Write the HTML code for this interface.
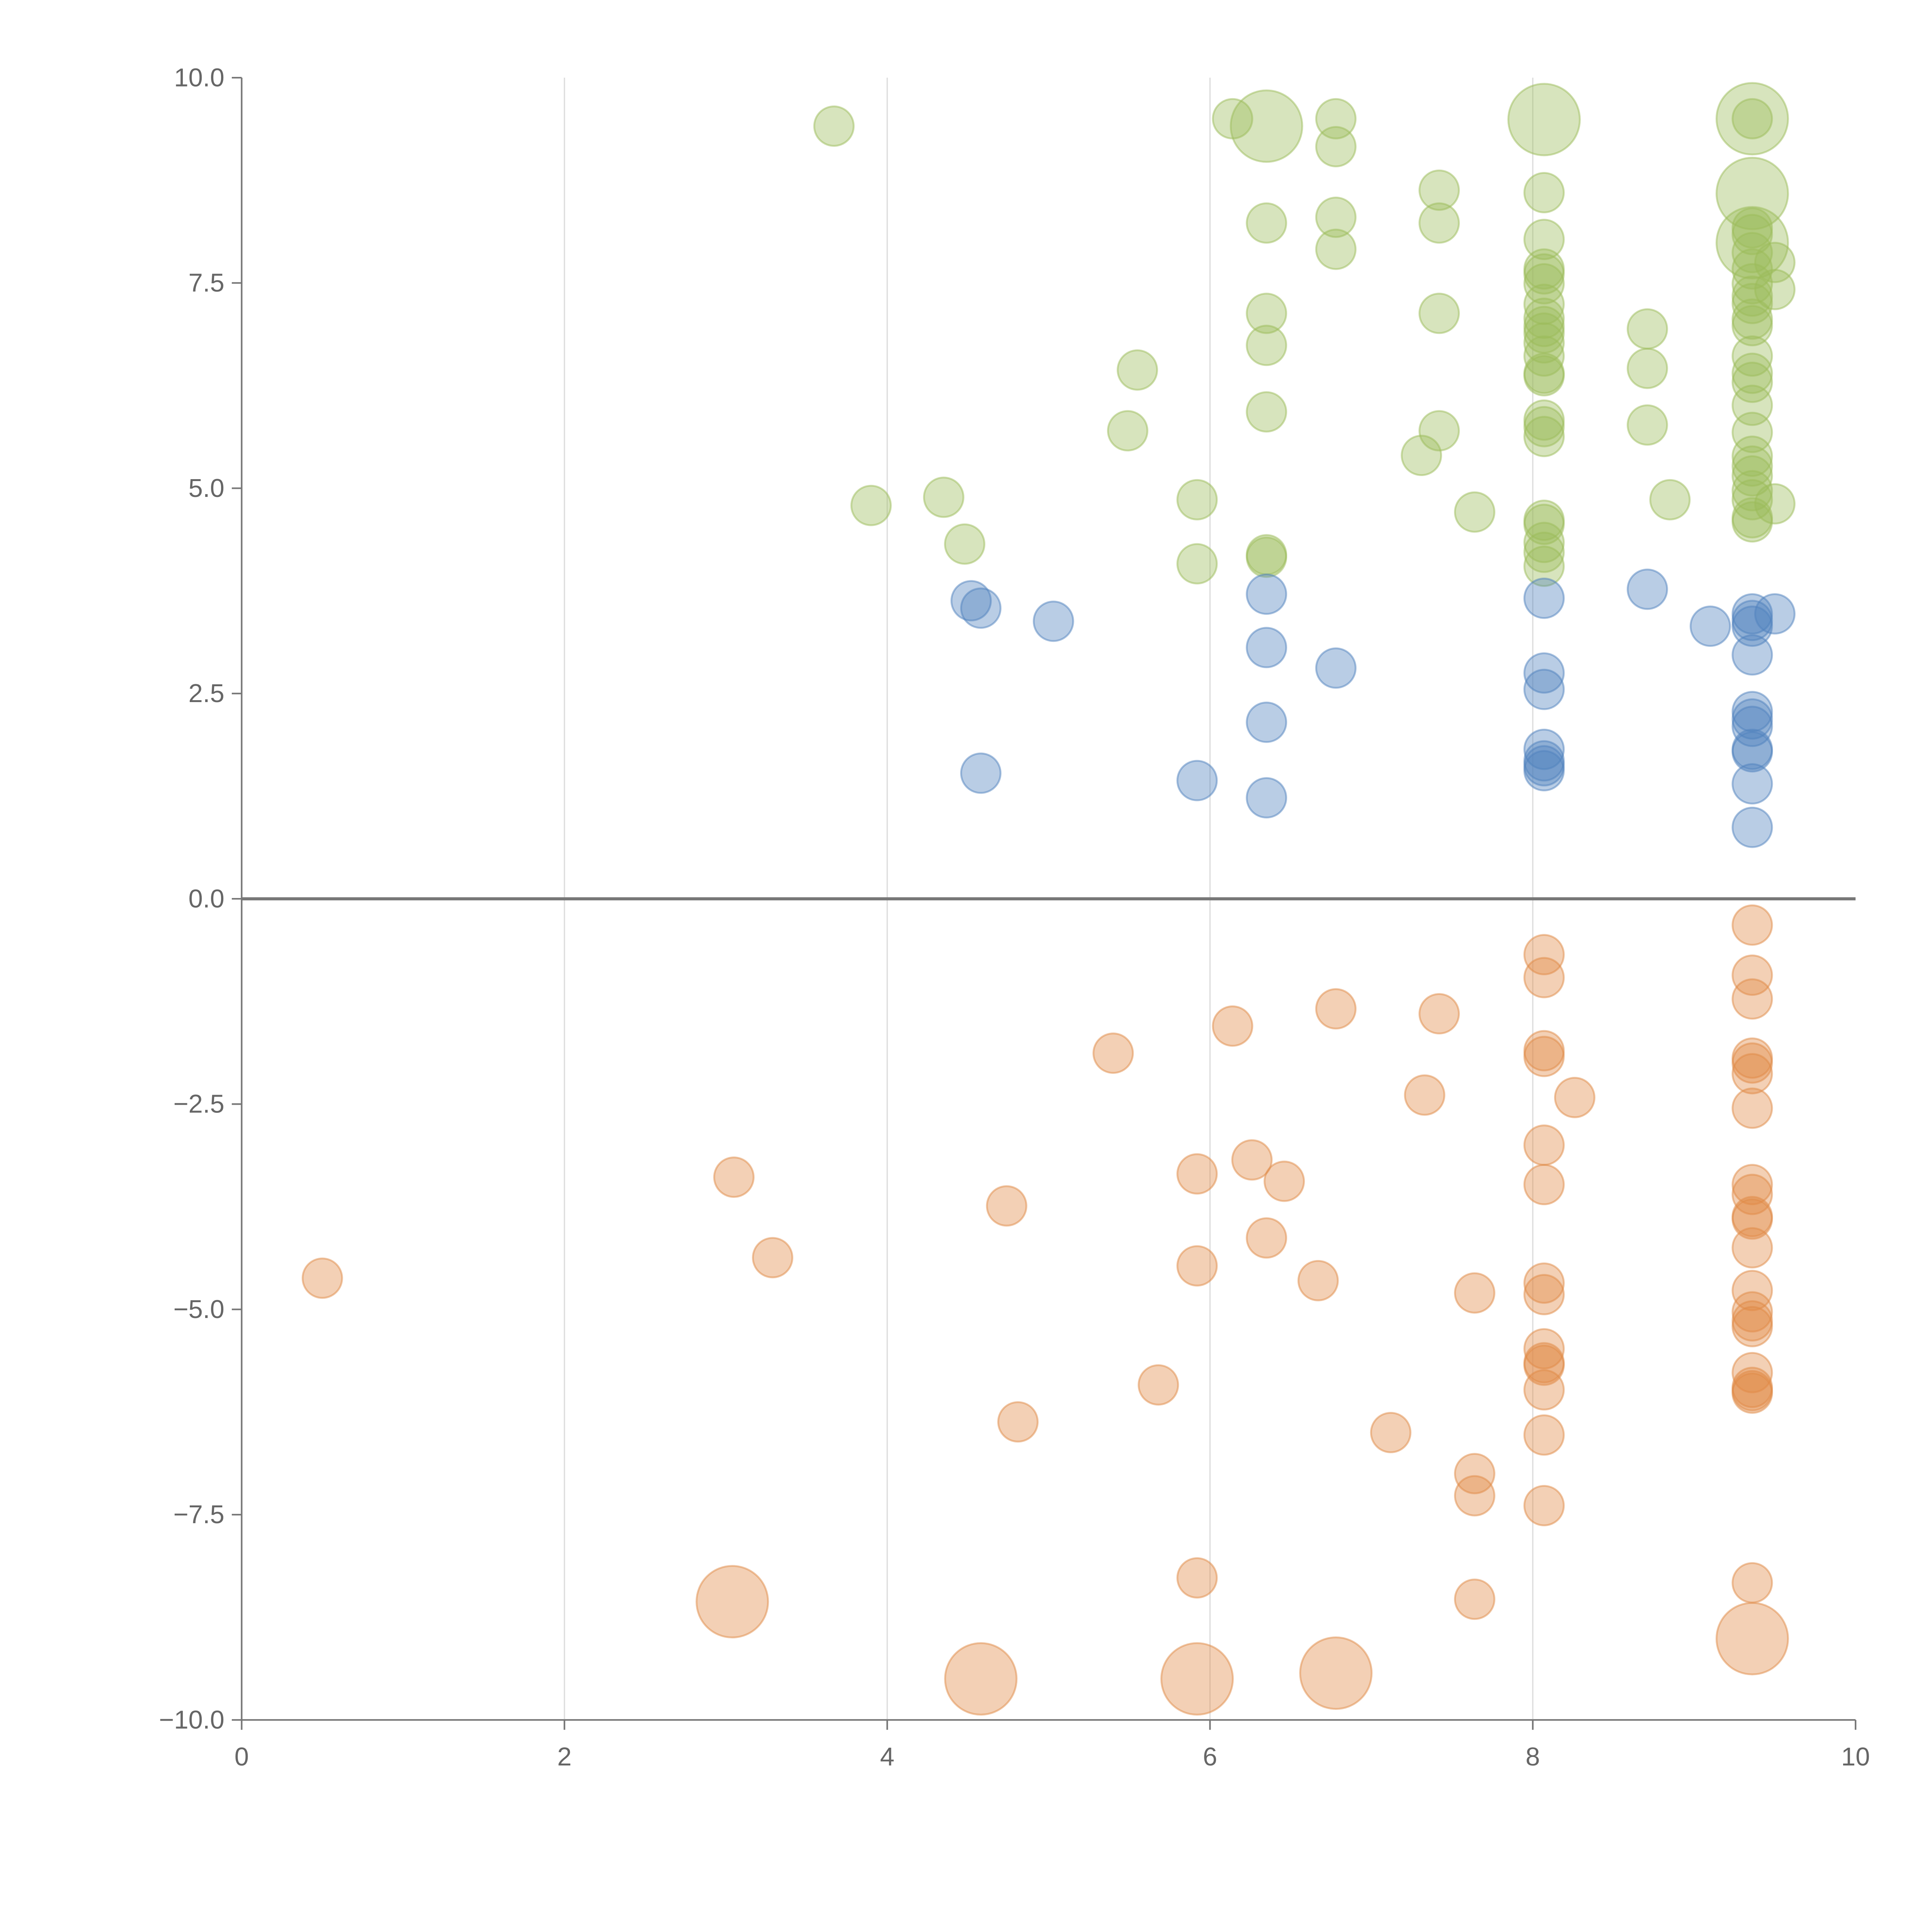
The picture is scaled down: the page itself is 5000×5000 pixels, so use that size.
<!DOCTYPE html>
<html><head><meta charset="utf-8"><style>
html,body{margin:0;padding:0;background:#fff;}
svg{display:block;font-family:"Liberation Sans",sans-serif;}
</style></head><body>
<svg id="chart" width="5000" height="5000" viewBox="0 0 1567 1567" xmlns="http://www.w3.org/2000/svg">
<g id="grid"></g>
<g id="axes"></g>
<g id="marks"></g>
</svg>
<script>
const xTicks=[0,2,4,6,8,10];
const yTicks=[10,7.5,5,2.5,0,-2.5,-5,-7.5,-10];
const yTickLabels=["10.0","7.5","5.0","2.5","0.0","\u22122.5","\u22125.0","\u22127.5","\u221210.0"];
const greenX=[3.67,3.90,4.35,4.48,5.55,5.49,5.92,5.92,6.14,6.35,6.35,6.35,6.35,6.35,6.35,6.35,6.78,6.78,6.78,6.78,7.42,7.42,7.42,7.42,7.31,7.64,8.07,
8.07,8.07,8.07,8.07,8.07,8.07,8.07,8.07,8.07,8.07,8.07,8.07,8.07,8.07,8.07,8.07,8.07,8.07,8.07,8.07,8.07,
8.71,8.71,8.71,8.85,
9.36,9.36,9.36,9.36,9.36,9.36,9.36,9.36,9.36,9.36,9.36,9.36,9.36,9.36,9.36,9.36,9.36,9.36,9.36,9.36,9.36,9.36,9.36,9.36,9.36,
9.50,9.50,9.50];
const greenY=[9.41,4.79,4.89,4.32,6.44,5.70,4.86,4.08,9.50,9.41,8.23,7.13,6.74,5.93,4.19,4.16,9.50,9.16,8.30,7.91,8.63,8.23,7.13,5.70,5.40,4.71,9.49,
8.60,8.03,7.67,7.61,7.49,7.24,7.07,6.97,6.89,6.77,6.61,6.40,6.37,5.83,5.75,5.63,4.61,4.56,4.34,4.22,4.05,
6.94,6.46,5.77,4.86,
9.50,9.50,8.59,7.99,8.17,8.09,7.87,7.67,7.49,7.34,7.25,7.06,6.98,6.61,6.40,6.29,6.01,5.68,5.39,5.27,5.15,4.97,4.86,4.64,4.59,
7.75,7.42,4.81];
const greenS=[1,1,1,1,1,1,1,1,1,2,1,1,1,1,1,1,1,1,1,1,1,1,1,1,1,1,2,
1,1,1,1,1,1,1,1,1,1,1,1,1,1,1,1,1,1,1,1,1,
1,1,1,1,
2,1,2,2,1,1,1,1,1,1,1,1,1,1,1,1,1,1,1,1,1,1,1,1,1,
1,1,1];
const blueX=[4.52,4.58,5.03,4.58,5.92,6.35,6.35,6.35,6.35,6.78,
8.07,8.07,8.07,8.07,8.07,8.07,8.07,8.71,9.10,
9.36,9.36,9.36,9.36,9.36,9.36,9.36,9.36,9.36,9.36,9.36,9.50];
const blueY=[3.63,3.54,3.38,1.53,1.44,3.71,3.06,2.15,1.23,2.81,
3.66,2.75,2.55,1.82,1.68,1.62,1.56,3.77,3.32,
3.47,3.39,3.32,2.97,2.28,2.19,2.10,1.82,1.79,1.40,0.87,3.47];
const orangeX=[0.50,3.05,3.29,3.04,4.74,4.81,4.58,5.40,5.68,5.92,5.92,5.92,5.92,6.14,6.26,6.46,6.35,6.67,6.78,6.78,7.12,7.33,7.42,
7.64,7.64,7.64,7.64,8.26,
8.07,8.07,8.07,8.07,8.07,8.07,8.07,8.07,8.07,8.07,8.07,8.07,8.07,8.07,
9.36,9.36,9.36,9.36,9.36,9.36,9.36,9.36,9.36,9.36,9.36,9.36,9.36,9.36,9.36,9.36,9.36,9.36,9.36,9.36,9.36,9.36];
const orangeY=[-4.62,-3.39,-4.37,-8.56,-3.74,-6.37,-9.50,-1.88,-5.92,-3.35,-4.47,-8.27,-9.50,-1.55,-3.18,-3.44,-4.13,-4.65,-1.34,-9.43,-6.50,-2.39,-1.40,
-4.80,-7.00,-7.27,-8.53,-2.42,
-0.68,-0.96,-1.85,-1.92,-3.00,-3.48,-4.68,-4.82,-5.48,-5.65,-5.68,-5.98,-6.53,-7.39,
-0.32,-0.93,-1.22,-1.94,-2.00,-2.13,-2.55,-3.48,-3.60,-3.87,-3.90,-4.25,-4.77,-5.03,-5.14,-5.21,-5.77,-5.95,-5.99,-6.02,-8.33,-9.01];
const orangeS=[1,1,1,2,1,1,2,1,1,1,1,1,2,1,1,1,1,1,1,2,1,1,1,
1,1,1,1,1,
1,1,1,1,1,1,1,1,1,1,1,1,1,1,
1,1,1,1,1,1,1,1,1,1,1,1,1,1,1,1,1,1,1,1,1,2];

const NS="http://www.w3.org/2000/svg";
const X0=196,X1=1505,Y0=1395,Y1=63;
const sx=v=>X0+(v-0)/10*(X1-X0);
const sy=v=>Y0-(v+10)/20*(Y0-Y1);
function mk(tag,attrs,parent){const e=document.createElementNS(NS,tag);for(const k in attrs)e.setAttribute(k,attrs[k]);parent.appendChild(e);return e;}
const grid=document.getElementById('grid'),axes=document.getElementById('axes'),marks=document.getElementById('marks');
xTicks.forEach(t=>{
  if(t>0&&t<10){const g=mk('line',{x1:sx(t),x2:sx(t),y1:Y1,y2:Y0,stroke:'#dcdcdc','stroke-width':1},grid);
  
  }
  const tk=mk('line',{x1:sx(t),x2:sx(t),y1:Y0,y2:Y0+8,stroke:'#777','stroke-width':1.3},axes);
  
  
  const tx=mk('text',{x:sx(t),y:Y0+37,'text-anchor':'middle','font-size':21,fill:'#666'},axes);
  tx.textContent=t;
  
  
});
yTicks.forEach((t,i)=>{
  const tk=mk('line',{x1:X0-8,x2:X0,y1:sy(t),y2:sy(t),stroke:'#777','stroke-width':1.3},axes);
  
  
  const tx=mk('text',{x:X0-14,y:sy(t)+7,'text-anchor':'end','font-size':21,fill:'#666'},axes);
  tx.textContent=yTickLabels[i];
  
  
});
const ya=mk('line',{x1:X0,x2:X0,y1:Y1,y2:Y0,stroke:'#777','stroke-width':1.3},axes);


const xa=mk('line',{x1:X0,x2:X1,y1:Y0,y2:Y0,stroke:'#777','stroke-width':1.3},axes);


const zl=mk('line',{x1:X0,x2:X1,y1:sy(0),y2:sy(0),stroke:'#777','stroke-width':2.5},axes);


function series(xs,ys,ss,color,name){
  xs.forEach((x,i)=>{
    const r=(ss&&ss[i]===2)?29:16;
    const c=mk('circle',{cx:sx(x),cy:sy(ys[i]),r:r,fill:color,'fill-opacity':0.4,stroke:color,'stroke-opacity':0.5,'stroke-width':1.5},marks);
    
    
  });
}
series(greenX,greenY,greenS,'#9bbb59','green-bubble');
series(blueX,blueY,null,'#4f81bd','blue-bubble');
series(orangeX,orangeY,orangeS,'#e08a45','orange-bubble');
</script>
</body></html>
